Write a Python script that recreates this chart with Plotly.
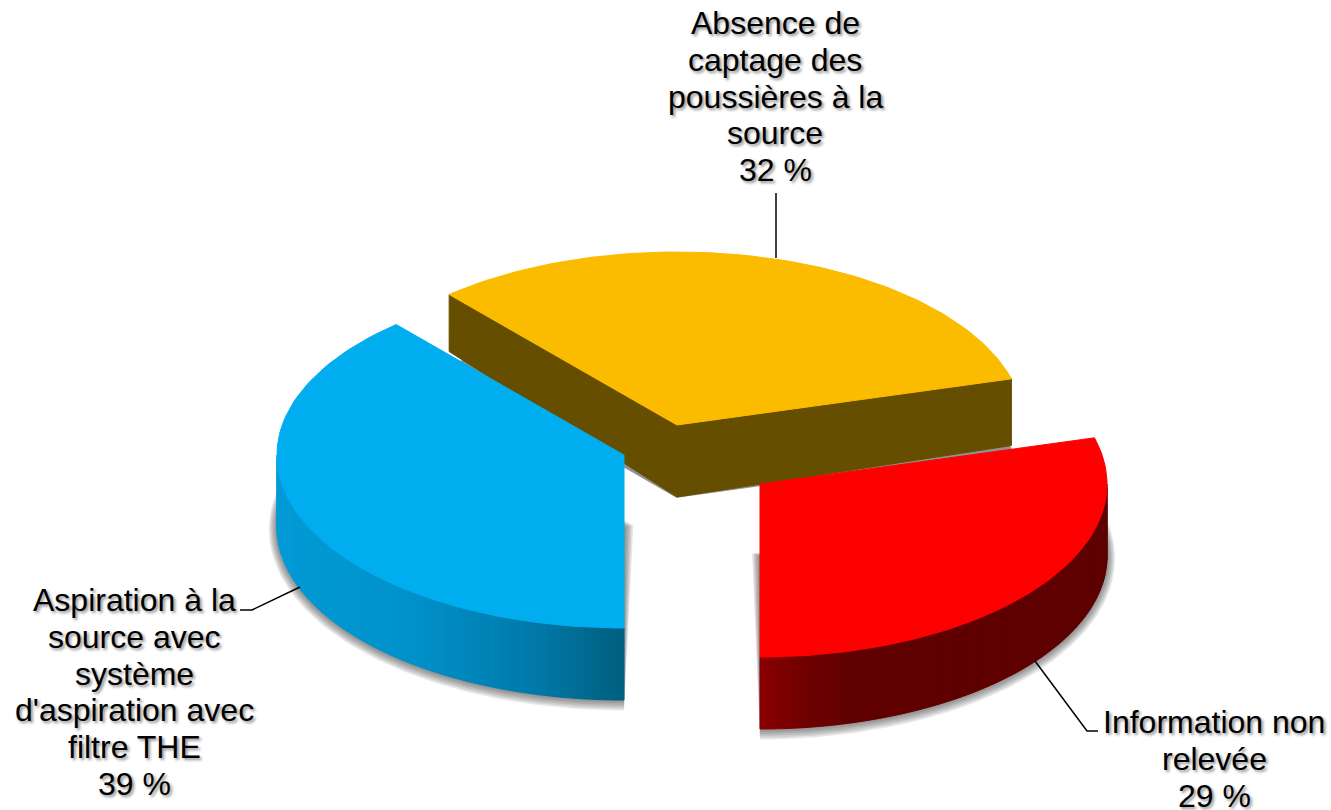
import numpy as np
import plotly.graph_objects as go

labels = ["Aspiration à la|source avec|système|d'aspiration avec|filtre THE",
          "Absence de|captage des|poussières à la|source",
          "Information non|relevée"]
# slice sizes as measured on the picture, the labels show them rounded
shares = [38.6, 32.1, 29.3]

# look of the slices
top_colors = ["#00AEEF", "#FBBC00", "#FF0000"]
apex = [(624, 455), (677, 425), (760, 484)]
label_pos = [(134, 600), (775, 23), (1214, 722)]
RX, RY, DEPTH = 347, 173, 72
LINE_H = 36.8

blue_wall = [(0, "#009BD7"), (.4, "#0091CA"), (.75, "#0079A9"), (1, "#005F80")]
red_wall = [(0, "#8C0000"), (.12, "#720000"), (.25, "#610000"), (1, "#5E0000")]

fig = go.Figure()


def poly(x, y, color, line=True):
    fig.add_trace(go.Scatter(x=x, y=y, mode="lines", fill="toself", fillcolor=color,
                             line=dict(color=color, width=1 if line else 0),
                             hoverinfo="skip", showlegend=False))


def mix(stops, t):
    pos = [s[0] for s in stops]
    rgb = [[int(s[1][i:i + 2], 16) for s in stops] for i in (1, 3, 5)]
    return "rgb(%d,%d,%d)" % tuple(np.interp(t, pos, c) for c in rgb)


def arc(c, a0, a1, n=90, grow=0, drop=0):
    t = np.radians(np.linspace(a0, a1, n))
    return c[0] + (RX + grow) * np.cos(t), c[1] + drop - (RY + grow) * np.sin(t)


def depth(y, y0):
    return DEPTH - 0.115 * np.maximum(0, y0 - y)


def shadow(c, a0, a1, spread=8):
    mid = np.radians((a0 + a1) / 2)
    for e in np.linspace(spread, 1, 6):
        ax = c[0] - e * np.cos(mid) * 1.25
        ay = c[1] + DEPTH + e * np.sin(mid) * 0.5
        x, y = arc(c, a0, a1, grow=e, drop=DEPTH + e * .3)
        poly(np.r_[ax, x, ax], np.r_[ay, y, ay], "rgba(60,60,60,0.13)", line=False)


# slices run clockwise from the bottom of the ellipse
ends = 270 - 3.6 * np.cumsum(shares)
starts = np.r_[270, ends[:-1]]

# yellow goes first, it sits behind the other two
a0, a1, c = starts[1], ends[1], apex[1]
shadow(c, a0, a1, spread=2)
x, y = arc(c, a0, a1)
for i in (0, -1):
    poly([c[0], x[i], x[i], c[0], c[0]],
         [c[1], y[i], y[i] + depth(y[i], c[1]), c[1] + DEPTH, c[1]], "#664E00")
poly(np.r_[c[0], x, c[0]], np.r_[c[1], y, c[1]], top_colors[1])

# blue and red with their gradient side walls
for k, stops, wa0, wa1 in ((0, blue_wall, 180, 270), (2, red_wall, -90, 0)):
    a0, a1, c = starts[k], ends[k], apex[k]
    shadow(c, a0, a1)
    edges = np.linspace(wa0, wa1, 71)
    xs, _ = arc(c, wa0, wa1, 71)
    for j in range(70):
        x, y = arc(c, edges[j], edges[j + 1], 4)
        t = (x.mean() - xs.min()) / (xs.max() - xs.min())
        poly(np.r_[x, x[::-1], x[0]], np.r_[y, y[::-1] + DEPTH, y[0]], mix(stops, t))
    x, y = arc(c, a0, a1)
    poly(np.r_[c[0], x, c[0]], np.r_[c[1], y, c[1]], top_colors[k])

# leader lines
for lx, ly in (([240, 252, 300], [610, 610, 587]),
               ([776, 776], [193, 258]),
               ([1035, 1087, 1098], [661, 731, 731])):
    fig.add_trace(go.Scatter(x=lx, y=ly, mode="lines", line=dict(color="black", width=1.5),
                             hoverinfo="skip", showlegend=False))

# labels, one annotation per line to get the tight line spacing
for lab, share, (lx, ly) in zip(labels, shares, label_pos):
    for i, txt in enumerate(lab.split("|") + ["%d %%" % round(share)]):
        fig.add_annotation(x=lx, y=ly + i * LINE_H, text=txt, showarrow=False,
                           xanchor="center", yanchor="middle",
                           font=dict(family="Liberation Sans", size=32, color="black",
                                     shadow="2px 2px 3px rgba(0,0,0,0.45)"))

fig.update_layout(width=1331, height=810, margin=dict(l=0, r=0, t=0, b=0),
                  paper_bgcolor="white", plot_bgcolor="white", showlegend=False,
                  xaxis=dict(range=[0, 1331], visible=False, fixedrange=True),
                  yaxis=dict(range=[810, 0], visible=False, fixedrange=True))

# the page's default body margin would push the chart 8px off
fig.write_html("out.html", config=dict(displayModeBar=False),
               post_script="document.body.style.margin='0';document.body.style.overflow='hidden';")
